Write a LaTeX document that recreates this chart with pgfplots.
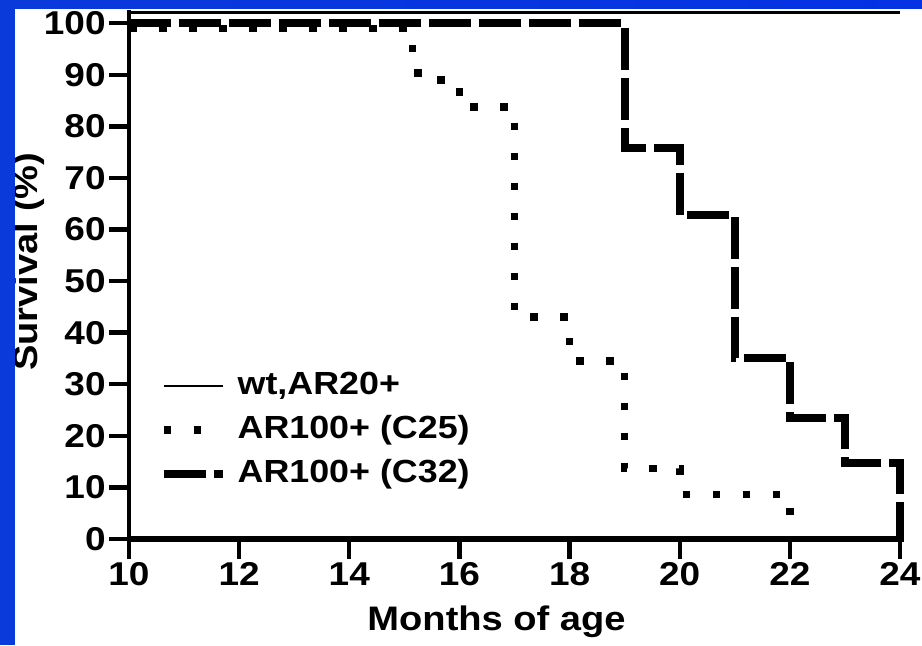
\documentclass[border=0pt]{standalone}
\usepackage{fontspec}
\setmainfont{Liberation Sans}[FakeStretch=1.12]
\usepackage{pgfplots}
\pgfplotsset{compat=1.18}
\definecolor{bblue}{RGB}{10,58,218}
\definecolor{bmid}{RGB}{42,82,192}
\definecolor{bright}{RGB}{4,50,228}
\begin{document}
\begin{tikzpicture}
\begin{axis}[
  at={(0pt,0pt)}, anchor=south west,
  scale only axis, width=387.7pt, height=264.6pt,
  xmin=10, xmax=24.08, ymin=0, ymax=102.6,
  axis x line*=bottom, axis y line*=left,
  x axis line style={line width=2.8pt},
  y axis line style={line width=2pt},
  xtick={10,12,14,16,18,20,22,24},
  xticklabels={10,12,14,16,18,20,22,24},
  ytick={0,10,20,30,40,50,60,70,80,90,100},
  yticklabels={0,10,20,30,40,50,60,70,80,90,100},
  tick align=outside,
  tick style={black, line width=2.2pt},
  major tick length=10pt,
  xticklabel style={yshift=0pt},
  ticklabel style={font=\bfseries\fontsize{16.5}{18}\selectfont, inner sep=1.5pt},
  xlabel={\bfseries Months of age},
  ylabel={\bfseries Survival (\%)},
  label style={font=\bfseries\fontsize{17}{19}\selectfont},
  xlabel style={at={(rel axis cs:0.474,0)}, anchor=base, yshift=-45.5pt},
  ylabel style={at={(rel axis cs:0,0.524)}, anchor=base, yshift=45.5pt},
  legend cell align=left,
  legend style={draw=none, fill=none, at={(rel axis cs:0.039,0.206)}, anchor=west,
    font=\bfseries\fontsize{16}{18}\selectfont, inner sep=0pt, row sep=6.5pt, column sep=5.5pt,
    nodes={inner xsep=0pt, inner ysep=0pt, text height=12pt, text depth=3.5pt}},
  legend image code/.code={\draw[#1] (0pt,0pt) -- (29.5pt,0pt);},
]
\addplot[black, line width=1.4pt] coordinates {(10,102) (24,102)};
\addlegendentry{wt,AR20+}
\addplot[black, line width=3.8pt, line cap=butt, dash pattern=on 3.8pt off 11.2pt] coordinates {
(10,99) (15.15,99) (15.15,92) (15.25,92) (15.25,89) (16,89) (16,83.7) (17,83.7)
(17,43) (18,43) (18,34.5) (19,34.5) (19,13.7) (20,13.7) (20,8.6) (22,8.6) (22,0)};
\addlegendentry{AR100+ (C25)}
\addplot[black, line width=4pt, line cap=butt, dash pattern=on 21pt off 4pt] coordinates {
(10,100) (19,100) (19,75.8) (20,75.8) (20,62.8) (21,62.8) (21,35.1) (22,35.1)
(22,23.5) (23,23.5) (23,14.7) (24,14.7) (24,0)};
\addlegendentry{AR100+ (C32)}
\end{axis}
\fill[bblue] (-64.5pt,-53pt) rectangle (-57pt,269.5pt);
\shade[left color=bblue, middle color=bmid, right color=bright] (-64.5pt,265.5pt) rectangle (396.5pt,269.5pt);
\pgfresetboundingbox
\path[use as bounding box] (-64.5pt,-53pt) rectangle (396.5pt,269.5pt);
\end{tikzpicture}
\end{document}
